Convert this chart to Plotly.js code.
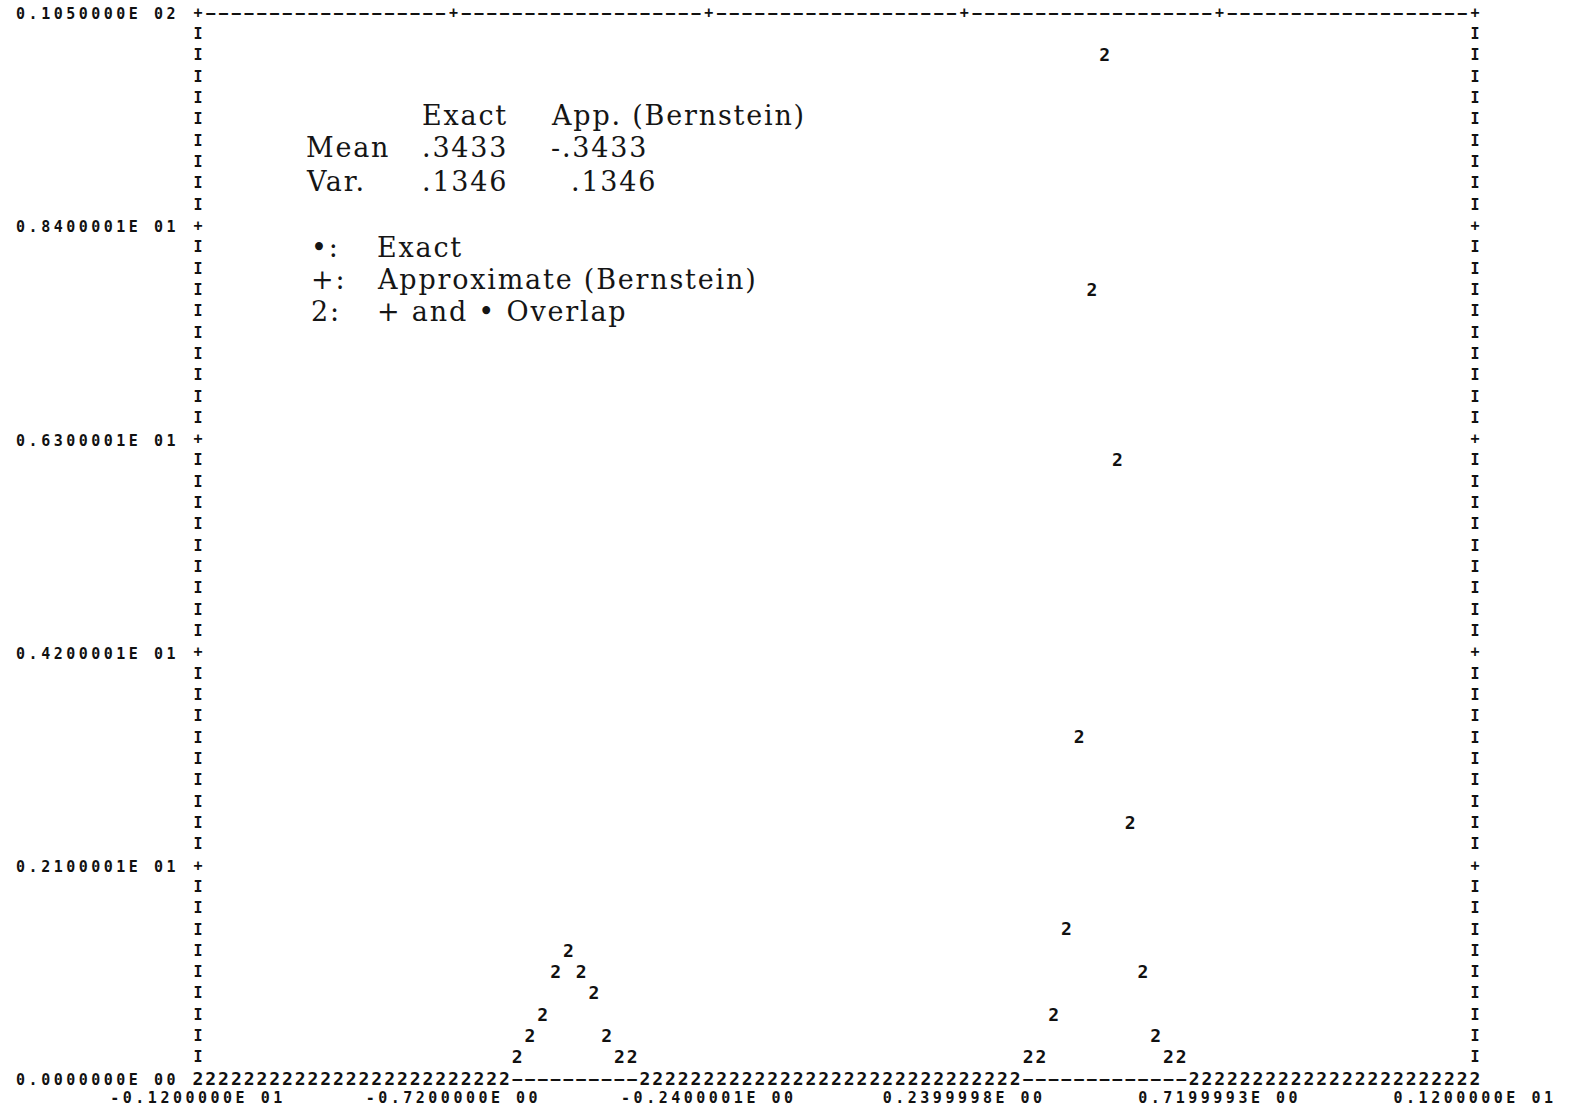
<!DOCTYPE html>
<html><head><meta charset="utf-8">
<script src="https://cdn.plot.ly/plotly-3.0.1.min.js"></script>
<style>
html,body{margin:0;padding:0;background:#fff;}
#chart{width:1575px;height:1113px;}
.xtick text,.ytick text{letter-spacing:3.5px;}
.annotation-text{letter-spacing:1.8px;}
</style></head><body><div id="chart"></div>
<script>
// Column positions of the line-printer grid (x)
const xValues = [-1.2,-1.176,-1.152,-1.128,-1.104,-1.08,-1.056,-1.032,-1.008,-0.984,
  -0.96,-0.936,-0.912,-0.888,-0.864,-0.84,-0.816,-0.792,-0.768,-0.744,
  -0.72,-0.696,-0.672,-0.648,-0.624,-0.6,-0.576,-0.552,-0.528,-0.504,
  -0.48,-0.456,-0.432,-0.408,-0.384,-0.36,-0.336,-0.312,-0.288,-0.264,
  -0.24,-0.216,-0.192,-0.168,-0.144,-0.12,-0.096,-0.072,-0.048,-0.024,
  0,0.024,0.048,0.072,0.096,0.12,0.144,0.168,0.192,0.216,
  0.24,0.264,0.288,0.312,0.336,0.36,0.384,0.408,0.432,0.456,
  0.48,0.504,0.528,0.552,0.576,0.6,0.624,0.648,0.672,0.696,
  0.72,0.744,0.768,0.792,0.816,0.84,0.864,0.888,0.912,0.936,
  0.96,0.984,1.008,1.032,1.056,1.08,1.104,1.128,1.152,1.176,1.2];
// Exact density
const exactValues = [0,0,0,0,0,0,0,0,0,0, 0,0,0,0,0,0,0,0,0,0, 0,0,0,0,0,
  0.21,0.42,0.63,1.05,1.26,1.05,0.84,0.42,0.21,0.21,
  0,0,0,0,0,0,0,0,0,0, 0,0,0,0,0,0,0,0,0,0, 0,0,0,0,0,0,0,0,0,0,
  0.21,0.21,0.63,1.47,3.36,7.77,10.08,6.09,2.52,1.05,0.42,0.21,0.21,
  0,0,0,0,0,0,0,0,0,0, 0,0,0,0,0,0,0,0,0,0, 0,0,0];
// Approximate (Bernstein) density
const approxValues = [0,0,0,0,0,0,0,0,0,0, 0,0,0,0,0,0,0,0,0,0, 0,0,0,0,0,
  0.21,0.42,0.63,1.05,1.26,1.05,0.84,0.42,0.21,0.21,
  0,0,0,0,0,0,0,0,0,0, 0,0,0,0,0,0,0,0,0,0, 0,0,0,0,0,0,0,0,0,0,
  0.21,0.21,0.63,1.47,3.36,7.77,10.08,6.09,2.52,1.05,0.42,0.21,0.21,
  0,0,0,0,0,0,0,0,0,0, 0,0,0,0,0,0,0,0,0,0, 0,0,0];
const xTickVals = [-1.2,-0.72,-0.24,0.24,0.72,1.2];
const xTickText = ["-0.1200000E 01","-0.7200000E 00","-0.2400001E 00","0.2399998E 00","0.7199993E 00","0.1200000E 01"];
const yTickVals = [0,2.1,4.2,6.3,8.4,10.5];
const yTickText = ["0.0000000E 00","0.2100001E 01","0.4200001E 01","0.6300001E 01","0.8400001E 01","0.1050000E 02"];
// Summary table and key texts
const tableHeader = ["Exact", "App. (Bernstein)"];
const meanRow = ["Mean", ".3433", "-.3433"];
const varRow = ["Var.", ".1346", ".1346"];
const keySymbols = ["•:", "+:", "2:"];
const keyLabels = ["Exact", "Approximate (Bernstein)", "+ and • Overlap"];

const INK = '#111';
const MONO = 'DejaVu Sans Mono, monospace';
const xMin = xTickVals[0], xMax = xTickVals[xTickVals.length-1];
const yMax = yTickVals[yTickVals.length-1];
const nRows = 50, rowStep = yMax / nRows;

// Frame characters
const fx = [], fy = [], ft = [];
xValues.forEach((x, i) => { fx.push(x); fy.push(yMax); ft.push(i % 20 === 0 ? '+' : '—'); });
for (let k = 1; k < nRows; k++) {
  const y = k * rowStep;
  const c = (k % 10 === 0) ? '+' : 'I';
  fx.push(xMin); fy.push(y); ft.push(c);
  fx.push(xMax); fy.push(y); ft.push(c);
}
// Axis row: dash where the curve is above zero
const ax = [], ay = [], at = [];
xValues.forEach((x, i) => {
  if (exactValues[i] > 0 || approxValues[i] > 0) { ax.push(x); ay.push(0); at.push('—'); }
});
// Plot symbols: • exact, + approximate, 2 overlap
const px = [], py = [], pt = [];
xValues.forEach((x, i) => {
  if (exactValues[i] === approxValues[i]) { px.push(x); py.push(exactValues[i]); pt.push('2'); }
  else {
    px.push(x); py.push(exactValues[i]); pt.push('•');
    px.push(x); py.push(approxValues[i]); pt.push('+');
  }
});

const common = {type:'scatter', mode:'text', hoverinfo:'skip', cliponaxis:false, showlegend:false,
  textposition:'middle center'};
const traces = [
  Object.assign({}, common, {x:fx, y:fy, text:ft, textfont:{family:MONO, size:15, color:INK, weight:'bold'}}),
  Object.assign({}, common, {x:ax, y:ay, text:at, textfont:{family:MONO, size:16, color:INK, weight:'bold'}}),
  Object.assign({}, common, {x:px, y:py, text:pt, textfont:{family:MONO, size:18, color:INK, weight:'bold'}})
];

// Text block (column starts in paper fractions)
const SERIF = 'DejaVu Serif, serif';
const C0 = 0.0833, C0b = 0.0872, C1 = 0.1738, C1b = 0.1384, C2 = 0.2752, C2b = 0.2902;
const R = [0.9048, 0.8746, 0.8426, 0.7814, 0.7514, 0.7210];
const segs = [
  [tableHeader[0], C1, R[0]], [tableHeader[1], C2, R[0]],
  [meanRow[0], C0, R[1]], [meanRow[1], C1, R[1]], [meanRow[2], C2, R[1]],
  [varRow[0], C0, R[2]], [varRow[1], C1, R[2]], [varRow[2], C2b, R[2]],
  [keySymbols[0], C0b, R[3]], [keyLabels[0], C1b, R[3]],
  [keySymbols[1], C0b, R[4]], [keyLabels[1], C1b, R[4]],
  [keySymbols[2], C0b, R[5]], [keyLabels[2], C1b, R[5]]
];
const annotations = segs.map(([t, x, y]) => ({
  xref:'paper', yref:'paper', x:x, y:y, xanchor:'left', yanchor:'middle',
  text:t, showarrow:false, font:{family:SERIF, size:27, color:'#151515'}
}));

const layout = {
  width:1575, height:1113,
  paper_bgcolor:'#fff', plot_bgcolor:'#fff',
  margin:{l:198, r:100, t:14, b:33},
  xaxis:{range:[xMin, xMax], showgrid:false, zeroline:false, showline:false,
    tickvals:xTickVals, ticktext:xTickText, ticks:'', ticklabelstandoff:7,
    tickfont:{family:MONO, size:15, color:INK, weight:'bold'}, automargin:false},
  yaxis:{range:[0, yMax], showgrid:false, zeroline:false, showline:false,
    tickvals:yTickVals, ticktext:yTickText, ticks:'', ticklabelstandoff:18,
    tickfont:{family:MONO, size:15, color:INK, weight:'bold'}, automargin:false},
  annotations:annotations
};
Plotly.newPlot('chart', traces, layout, {displayModeBar:false, staticPlot:true});
</script></body></html>
